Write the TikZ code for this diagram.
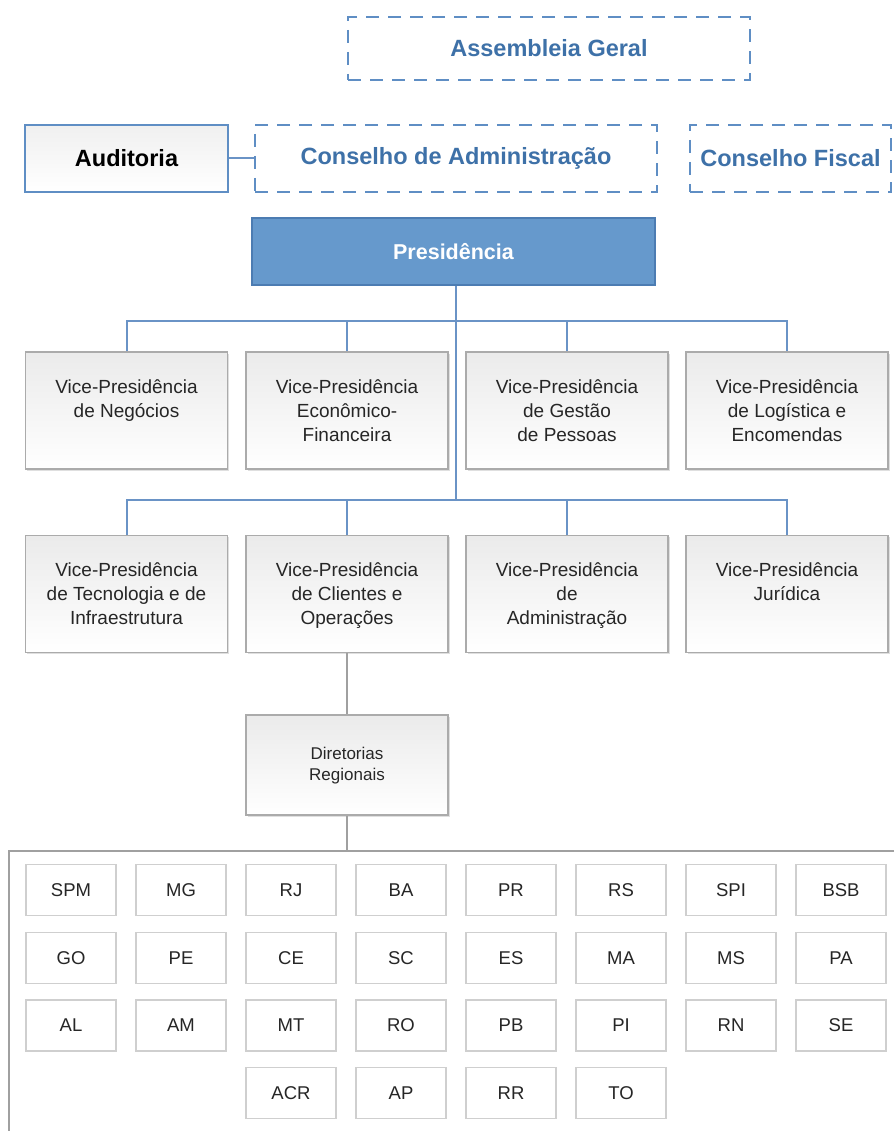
\documentclass[tikz,border=0pt]{standalone}
\usepackage{fontspec}
\setmainfont{Liberation Sans}
\usetikzlibrary{shadows}
\definecolor{cblue}{HTML}{3E71A8}
\definecolor{dblue}{HTML}{5F8EC4}
\definecolor{pfill}{HTML}{6699CC}
\definecolor{pborder}{HTML}{4C7CB2}
\definecolor{lineblue}{HTML}{6A93C6}
\definecolor{gline}{HTML}{A0A0A0}
\definecolor{vpborder}{HTML}{ABABAB}
\definecolor{smborder}{HTML}{CFCFCF}
\begin{document}
\begin{tikzpicture}[x=1pt,y=-1pt,
  dashbox/.style={draw=dblue,line width=2pt,dash pattern=on 13pt off 9pt,
    inner sep=0pt,font=\bfseries\fontsize{23.5}{26}\selectfont,text=cblue},
  audbox/.style={draw=dblue,line width=2pt,inner sep=0pt,top color=gray!12,bottom color=white,
    minimum width=203pt,minimum height=67pt,font=\bfseries\fontsize{23.5}{26}\selectfont},
  presbox/.style={draw=pborder,line width=2pt,fill=pfill,inner sep=0pt,text=white,
    minimum width=403pt,minimum height=67pt,font=\bfseries\fontsize{21.5}{24}\selectfont},
  vpbox/.style={draw=vpborder,line width=1.5pt,top color=gray!16,bottom color=white,
    minimum width=202pt,minimum height=117pt,inner sep=0pt,
    drop shadow={shadow xshift=1.5pt,shadow yshift=-1.5pt,opacity=0.25}},
  vptext/.style={anchor=north,align=center,inner sep=0pt,font=\fontsize{19}{24}\selectfont,text=black!85},
  dirbox/.style={draw=vpborder,line width=1.5pt,top color=gray!16,bottom color=white,
    minimum width=202pt,minimum height=100pt,inner sep=0pt,
    drop shadow={shadow xshift=1.5pt,shadow yshift=-1.5pt,opacity=0.25}},
  dirtext/.style={anchor=north,align=center,inner sep=0pt,font=\fontsize{17}{21}\selectfont,text=black!85},
  smbox/.style={draw=smborder,line width=1.2pt,fill=white,minimum width=90pt,minimum height=51pt,
    inner sep=0pt,font=\fontsize{18.5}{20}\selectfont,text=black!85},
  bline/.style={draw=lineblue,line width=2pt},
  gline/.style={draw=gline,line width=1.8pt}
]
\useasboundingbox (0,0) rectangle (894,1131);
\fill[white] (0,0) rectangle (894,1131);

% top boxes
\node[dashbox,minimum width=402pt,minimum height=63pt] (ag) at (549,48.5) {Assembleia Geral};
\node[audbox] (aud) at (126.5,158.5) {Auditoria};
\node[dashbox,minimum width=402pt,minimum height=67pt] (cadm) at (456,158.5) {Conselho de Administração};
\node[dashbox,minimum width=201pt,minimum height=67pt] (cfis) at (790.5,158.5) {Conselho Fiscal};
\node[presbox] (pres) at (453.5,251.5) {Presidência};

\draw[bline] (aud.east) -- (cadm.west);

% VP boxes row 1
\node[vpbox] (v1) at (126.5,410.5) {};
\node[vpbox] (v2) at (347,410.5) {};
\node[vpbox] (v3) at (567,410.5) {};
\node[vpbox] (v4) at (787,410.5) {};
% row 2
\node[vpbox] (v5) at (126.5,594) {};
\node[vpbox] (v6) at (347,594) {};
\node[vpbox] (v7) at (567,594) {};
\node[vpbox] (v8) at (787,594) {};

\node[vptext] at ([yshift=-28.5pt]v1.north) {Vice-Presidência\\de Negócios};
\node[vptext] at ([yshift=-28.5pt]v2.north) {Vice-Presidência\\Econômico-\\Financeira};
\node[vptext] at ([yshift=-28.5pt]v3.north) {Vice-Presidência\\de Gestão\\de Pessoas};
\node[vptext] at ([yshift=-28.5pt]v4.north) {Vice-Presidência\\de Logística e\\Encomendas};
\node[vptext] at ([yshift=-28pt]v5.north) {Vice-Presidência\\de Tecnologia e de\\Infraestrutura};
\node[vptext] at ([yshift=-28pt]v6.north) {Vice-Presidência\\de Clientes e\\Operações};
\node[vptext] at ([yshift=-28pt]v7.north) {Vice-Presidência\\de\\Administração};
\node[vptext] at ([yshift=-28pt]v8.north) {Vice-Presidência\\Jurídica};

% connectors
\coordinate (b1) at (456,321);
\coordinate (b2) at (456,500);
\draw[bline] (pres.south -| b1) -- (b2);
\draw[bline] (v1.north) |- (b1) -| (v4.north);
\draw[bline] (v2.north) -- (v2.north |- b1);
\draw[bline] (v3.north) -- (v3.north |- b1);
\draw[bline] (v5.north) |- (b2) -| (v8.north);
\draw[bline] (v6.north) -- (v6.north |- b2);
\draw[bline] (v7.north) -- (v7.north |- b2);

% diretorias
\node[dirbox] (dir) at (347,765) {};
\node[dirtext] at ([yshift=-33pt]dir.north) {Diretorias\\Regionais};
\draw[gline] (v6.south) -- (dir.north);
\coordinate (brk) at (347,851);
\coordinate (brkl) at (9,851);
\coordinate (brkr) at (894,851);
\coordinate (brkb) at (9,1131);
\draw[gline] (dir.south) -- (brk);
\draw[gline] (brkr) -- (brkl) -- (brkb);

% regional boxes
\foreach \t [count=\i from 0] in {SPM,MG,RJ,BA,PR,RS,SPI,BSB}
  \node[smbox] (r1-\i) at (71+110*\i,890) {\t};
\foreach \t [count=\i from 0] in {GO,PE,CE,SC,ES,MA,MS,PA}
  \node[smbox] (r2-\i) at (71+110*\i,958) {\t};
\foreach \t [count=\i from 0] in {AL,AM,MT,RO,PB,PI,RN,SE}
  \node[smbox] (r3-\i) at (71+110*\i,1025.5) {\t};
\foreach \t [count=\i from 2] in {ACR,AP,RR,TO}
  \node[smbox] (r4-\i) at (71+110*\i,1093) {\t};
\end{tikzpicture}
\end{document}
